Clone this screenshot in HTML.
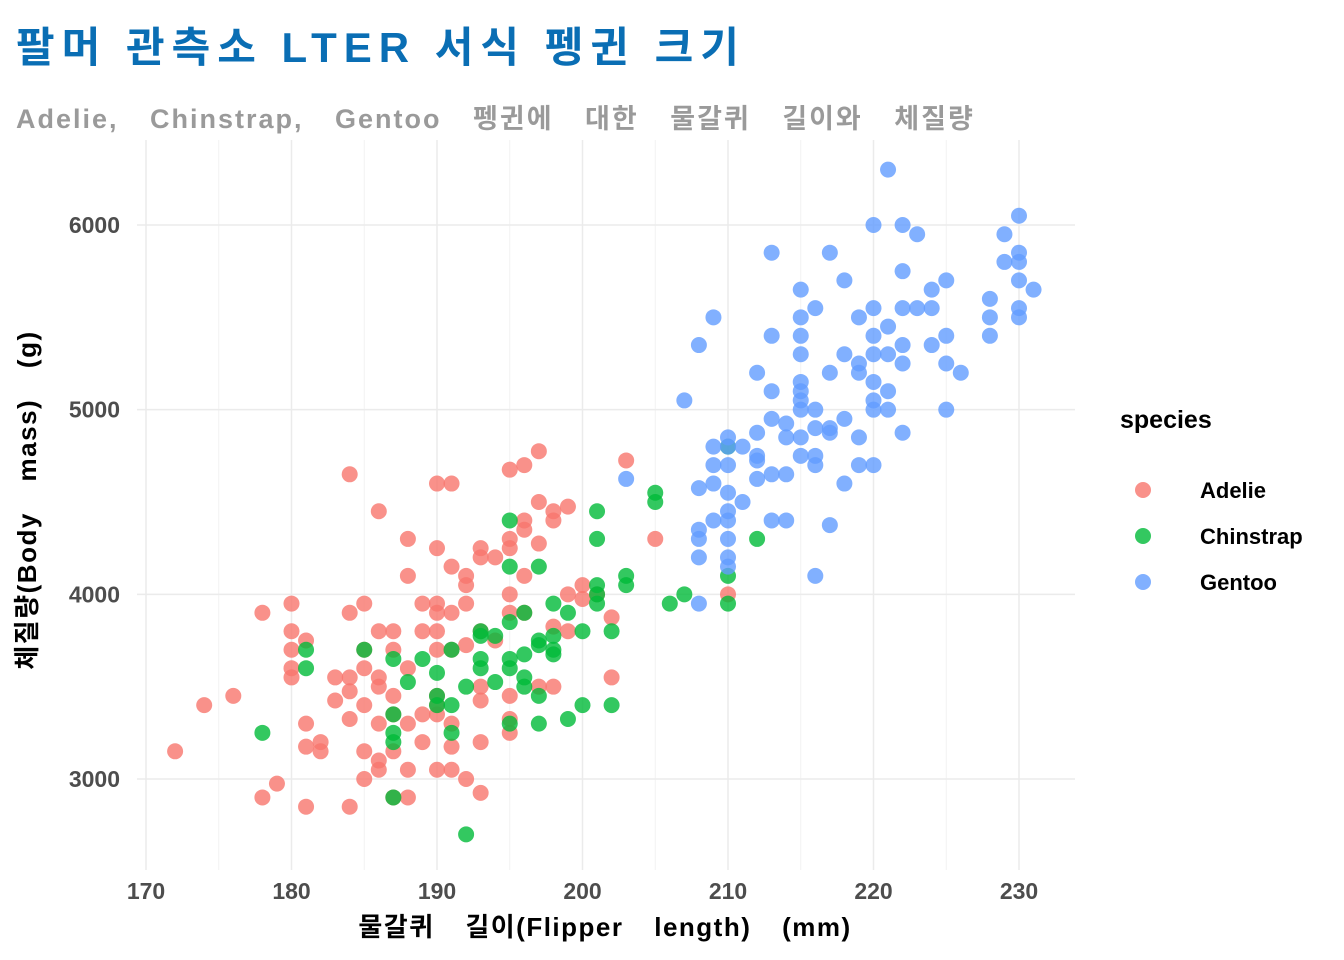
<!DOCTYPE html>
<html><head><meta charset="utf-8"><style>
body{margin:0;background:#fff;}
svg{display:block;font-family:"Liberation Sans","Noto Sans CJK KR",sans-serif;}
</style></head><body>
<svg id="chart" width="1344" height="960">
<text x="16" y="62" font-size="42" font-weight="bold" fill="#0a6eb4" letter-spacing="7">팔머 관측소 LTER 서식 펭귄 크기</text>
<text x="16" y="128" font-size="27" font-weight="bold" fill="#9a9a9a" letter-spacing="2" word-spacing="22">Adelie, Chinstrap, Gentoo 펭귄에 대한 물갈퀴 길이와 체질량</text>
<g id="grid"></g>
<g id="points"></g>
<g id="axes"></g>
<text x="605" y="936" text-anchor="middle" font-size="26" font-weight="bold" fill="#000" letter-spacing="1.5" word-spacing="22">물갈퀴 길이(Flipper length) (mm)</text>
<text transform="translate(36,500) rotate(-90)" text-anchor="middle" font-size="26" font-weight="bold" fill="#000" letter-spacing="1.5" word-spacing="22">체질량(Body mass) (g)</text>
<text x="1120" y="428" font-size="25" font-weight="bold" fill="#000">species</text>
<g id="legend"></g>
</svg>
<script>
const xTicks=[170,180,190,200,210,220,230];
const yTicks=[3000,4000,5000,6000];
const speciesNames=["Adelie","Chinstrap","Gentoo"];
const speciesColors=["#F8766D","#00BA38","#619CFF"];
const adelie=[[172,3150],[174,3400],[176,3450],[178,3900],[178,2900],[179,2975],[180,3950],[180,3800],[180,3700],[180,3600],[180,3550],[181,3750],[181,3300],[181,3175],[182,3200],[182,3150],[181,2850],[183,3425],[184,3550],[184,3900],[184,4650],[184,3325],[184,3475],[184,2850],[185,3950],[185,3700],[185,3600],[185,3400],[185,3150],[185,3000],[186,4450],[186,3800],[186,3550],[186,3500],[186,3300],[186,3050],[187,3800],[187,3700],[187,3450],[187,3350],[187,3150],[187,2900],[188,4300],[188,4100],[188,3600],[188,3300],[188,3050],[188,2900],[189,3800],[189,3950],[189,3350],[189,3200],[190,4600],[190,4250],[190,3950],[190,3900],[190,3800],[190,3700],[190,3450],[190,3350],[190,3050],[191,4600],[191,4150],[191,3900],[191,3700],[191,3175],[191,3050],[192,4100],[192,4050],[192,3950],[192,3725],[192,3000],[193,4250],[193,4200],[193,3800],[193,3500],[193,3425],[193,3200],[193,2925],[194,4200],[194,3750],[195,4675],[195,4300],[195,4250],[195,4000],[195,3900],[195,3450],[195,3325],[195,3250],[196,4700],[196,4400],[196,4350],[196,4100],[196,3900],[197,4775],[197,4500],[197,4275],[197,3500],[198,4450],[198,4400],[198,3825],[198,3500],[199,4475],[199,4000],[199,3800],[200,4050],[200,3975],[201,4000],[202,3875],[202,3550],[203,4725],[205,4300],[210,4000],[186,3100],[191,3300],[190,3400],[183,3550]];
const chinstrap=[[178,3250],[181,3700],[181,3600],[185,3700],[187,3650],[187,3350],[187,3250],[187,3200],[187,2900],[188,3525],[189,3650],[190,3575],[190,3450],[190,3400],[191,3700],[191,3400],[191,3250],[192,3500],[192,2700],[193,3800],[193,3775],[193,3650],[193,3600],[194,3775],[194,3525],[195,4400],[195,4150],[195,3850],[195,3650],[195,3600],[195,3300],[196,3900],[196,3675],[196,3550],[196,3500],[197,4150],[197,3750],[197,3725],[197,3450],[197,3300],[198,3950],[198,3775],[198,3700],[198,3675],[199,3900],[199,3325],[200,3800],[200,3400],[201,4450],[201,4300],[201,4050],[201,4000],[201,3950],[202,3800],[202,3400],[203,4100],[203,4050],[205,4550],[205,4500],[206,3950],[207,4000],[210,4800],[210,4100],[210,3950],[212,4300]];
const gentoo=[[203,4625],[207,5050],[208,5350],[208,4575],[208,4350],[208,4300],[208,4200],[208,3950],[209,5500],[209,4800],[209,4700],[209,4600],[209,4400],[210,4850],[210,4800],[210,4700],[210,4550],[210,4400],[210,4300],[210,4200],[210,4150],[210,4450],[211,4800],[211,4500],[212,5200],[212,4875],[212,4750],[212,4725],[212,4625],[213,5850],[213,5400],[213,5100],[213,4950],[213,4650],[213,4400],[214,4925],[214,4850],[214,4650],[214,4400],[215,5650],[215,5500],[215,5400],[215,5300],[215,5150],[215,5100],[215,5050],[215,5000],[215,4850],[215,4750],[216,5550],[216,5000],[216,4900],[216,4750],[216,4700],[216,4100],[217,5850],[217,5200],[217,4900],[217,4875],[217,4375],[218,5700],[218,5300],[218,4950],[218,4600],[219,5500],[219,5250],[219,5200],[219,4850],[219,4700],[220,6000],[220,5550],[220,5400],[220,5300],[220,5150],[220,5050],[220,5000],[220,4700],[221,6300],[221,5450],[221,5300],[221,5100],[221,5000],[222,6000],[222,5750],[222,5550],[222,5350],[222,5250],[222,4875],[223,5950],[223,5550],[224,5650],[224,5550],[224,5350],[225,5700],[225,5400],[225,5250],[225,5000],[226,5200],[228,5600],[228,5500],[228,5400],[229,5950],[229,5800],[230,6050],[230,5850],[230,5800],[230,5700],[230,5550],[230,5500],[231,5650]];

const NS="http://www.w3.org/2000/svg";
const X=v=>146+(v-170)*(1019-146)/60;
const Y=v=>779-(v-3000)*(779-225)/3000;
const PL=137,PR=1075,PT=140,PB=870;
function mk(t,a,p){const e=document.createElementNS(NS,t);for(const k in a)e.setAttribute(k,a[k]);p.appendChild(e);return e;}
const grid=document.getElementById('grid'),axes=document.getElementById('axes'),pts=document.getElementById('points'),leg=document.getElementById('legend');
for(let v=175;v<=225;v+=10){const l=mk('line',{x1:X(v),x2:X(v),y1:PT,y2:PB,stroke:'#f2f2f2','stroke-width':1},grid);}
for(let v=2500;v<=6000;v+=1000){const l=mk('line',{x1:PL,x2:PR,y1:Y(v+500),y2:Y(v+500),stroke:'#f2f2f2','stroke-width':1},grid);}
xTicks.forEach(v=>{const l=mk('line',{x1:X(v),x2:X(v),y1:PT,y2:PB,stroke:'#ebebeb','stroke-width':1.5},grid);
const t=mk('text',{x:X(v),y:899,'text-anchor':'middle','font-size':23,'font-weight':'bold',fill:'#4d4d4d'},axes);t.textContent=v;});
yTicks.forEach(v=>{const l=mk('line',{x1:PL,x2:PR,y1:Y(v),y2:Y(v),stroke:'#ebebeb','stroke-width':1.5},grid);
const t=mk('text',{x:120,y:Y(v)+8,'text-anchor':'end','font-size':23,'font-weight':'bold',fill:'#4d4d4d'},axes);t.textContent=v;});
[adelie,chinstrap,gentoo].forEach((s,i)=>{s.forEach(d=>{const c=mk('circle',{cx:X(d[0]),cy:Y(d[1]),r:8,fill:speciesColors[i],'fill-opacity':0.8},pts);});
const y=490+i*46;const c=mk('circle',{cx:1143,cy:y,r:8,fill:speciesColors[i],'fill-opacity':0.8},leg);
const t=mk('text',{x:1200,y:y+8,'font-size':22,'font-weight':'bold',fill:'#000'},leg);t.textContent=speciesNames[i];});
</script>
</body></html>
